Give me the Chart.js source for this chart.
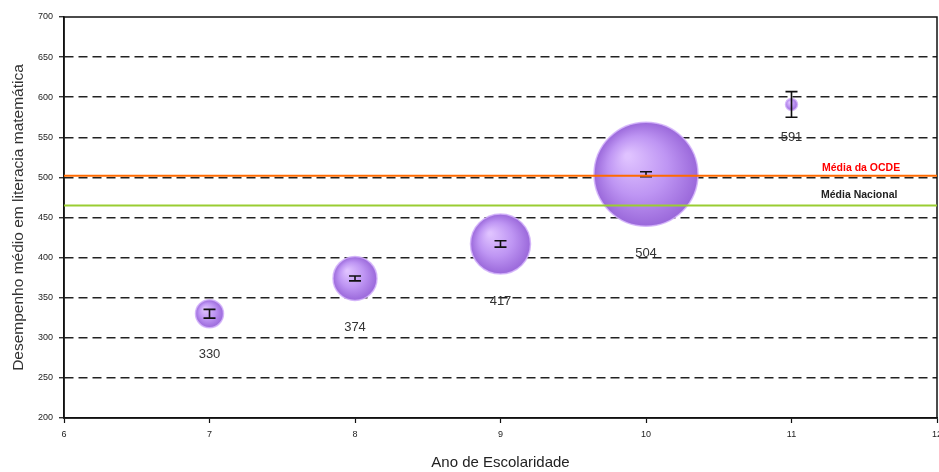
<!DOCTYPE html>
<html>
<head>
<meta charset="utf-8">
<script src="https://cdn.jsdelivr.net/npm/chart.js@4.4.1/dist/chart.umd.min.js"></script>
<style>
    html, body { margin: 0; padding: 0; background: #fff; }
    #wrap { width: 939px; height: 472px; }
</style>
</head>
<body>
<div id="wrap"><canvas id="chart"></canvas></div>
<script>
// data
const years = [7, 8, 9, 10, 11];
const scores = [330, 374, 417, 504, 591];
const bubbleSizes = [14, 22, 30, 52, 6];
const errors = [5.5, 3, 4, 3, 16];
const oecdMean = 502;
const nationalMean = 465;
const xRange = [6, 12];
const yRange = [200, 700];
const yStep = 50;
const labelOecd = 'Média da OCDE';
const labelNational = 'Média Nacional';

const FONT = "'Liberation Sans', Arial, sans-serif";

function bubbleFill(ctx) {
    const chart = ctx.chart;
    const i = ctx.dataIndex;
    if (i === undefined || !chart.chartArea) return '#b58ae8';
    const cx = chart.scales.x.getPixelForValue(years[i]);
    const cy = chart.scales.y.getPixelForValue(scores[i]);
    const r = bubbleSizes[i];
    const g = chart.ctx.createRadialGradient(cx - r * 0.35, cy - r * 0.35, r * 0.05, cx, cy, r);
    g.addColorStop(0, '#dfc2ff');
    g.addColorStop(0.55, '#be95f3');
    g.addColorStop(1, '#9a68da');
    return g;
}

const framePlugin = {
    id: 'frame',
    beforeDatasetsDraw(chart) {
        const { ctx, chartArea: a } = chart;
        ctx.save();
        ctx.strokeStyle = '#111';
        ctx.lineWidth = 1.5;
        ctx.strokeRect(a.left, a.top, a.right - a.left, a.bottom - a.top);
        ctx.restore();
    },
};

const errorBarPlugin = {
    id: 'errorBars',
    afterDatasetDraw(chart, args) {
        if (chart.data.datasets[args.index].type !== 'bubble') return;
        const { ctx } = chart;
        const xs = chart.scales.x, ys = chart.scales.y;
        ctx.save();
        ctx.strokeStyle = '#111';
        ctx.lineWidth = 1.6;
        years.forEach((yr, i) => {
            const x = xs.getPixelForValue(yr);
            const y1 = ys.getPixelForValue(scores[i] + errors[i]);
            const y2 = ys.getPixelForValue(scores[i] - errors[i]);
            ctx.beginPath();
            ctx.moveTo(x, y1); ctx.lineTo(x, y2);
            ctx.moveTo(x - 6, y1); ctx.lineTo(x + 6, y1);
            ctx.moveTo(x - 6, y2); ctx.lineTo(x + 6, y2);
            ctx.stroke();
        });
        ctx.restore();
    },
    afterDatasetsDraw(chart) {
        const { ctx, chartArea: a } = chart;
        const xs = chart.scales.x, ys = chart.scales.y;
        ctx.save();
        ctx.textAlign = 'center';
        ctx.textBaseline = 'middle';
        ctx.font = `13px ${FONT}`;
        ctx.fillStyle = '#333';
        years.forEach((yr, i) => {
            const x = xs.getPixelForValue(yr);
            const y = ys.getPixelForValue(scores[i]) + bubbleSizes[i] + 27;
            ctx.fillText(String(scores[i]), x, y);
        });
        ctx.textAlign = 'left';
        ctx.font = `bold 10.5px ${FONT}`;
        ctx.fillStyle = '#ff0000';
        ctx.fillText(labelOecd, a.right - 115, ys.getPixelForValue(oecdMean) - 8);
        ctx.fillStyle = '#222';
        ctx.fillText(labelNational, a.right - 116, ys.getPixelForValue(nationalMean) - 10);
        ctx.restore();
    },
};

new Chart(document.getElementById('chart'), {
    data: {
        datasets: [
            {
                type: 'line',
                data: xRange.map((x) => ({ x, y: oecdMean })),
                borderColor: '#ff6a00',
                borderWidth: 2,
                pointRadius: 0,
                order: 0,
            },
            {
                type: 'line',
                data: xRange.map((x) => ({ x, y: nationalMean })),
                borderColor: '#9acd32',
                borderWidth: 2,
                pointRadius: 0,
                order: 0,
            },
            {
                type: 'bubble',
                data: years.map((x, i) => ({ x, y: scores[i], r: bubbleSizes[i] })),
                backgroundColor: bubbleFill,
                borderColor: 'rgba(210,178,250,0.85)',
                borderWidth: 1.5,
                order: 1,
            },
        ],
    },
    options: {
        responsive: true,
        maintainAspectRatio: false,
        animation: false,
        layout: { autoPadding: false, padding: { left: 0, top: 17, right: 2, bottom: 0 } },
        plugins: { legend: { display: false }, tooltip: { enabled: false } },
        scales: {
            x: {
                type: 'linear',
                min: xRange[0],
                max: xRange[1],
                ticks: { stepSize: 1, color: '#222', font: { family: FONT, size: 9 }, padding: 6 },
                grid: { drawOnChartArea: false, tickLength: 5, tickColor: '#111', tickWidth: 1.2 },
                border: { color: '#111', width: 1.5 },
                title: { display: true, text: 'Ano de Escolaridade', color: '#222', font: { family: FONT, size: 15 }, padding: { top: 0, bottom: 0 } },
                afterFit(scale) { scale.height = 54; scale.paddingLeft = 0; scale.paddingRight = 0; },
            },
            y: {
                min: yRange[0],
                max: yRange[1],
                ticks: { stepSize: yStep, color: '#222', font: { family: FONT, size: 9 }, padding: 6 },
                grid: {
                    color: (c) => (c.tick && (c.tick.value === yRange[0] || c.tick.value === yRange[1]) ? 'rgba(0,0,0,0)' : '#222'),
                    lineWidth: 1.5,
                    tickLength: 5,
                    tickColor: '#111',
                    tickWidth: 1.2,
                },
                border: { color: '#111', width: 1.5, dash: [9, 5] },
                title: { display: true, text: 'Desempenho médio em literacia matemática', color: '#333', font: { family: FONT, size: 15.5 }, padding: { top: 9, bottom: 0 } },
                afterFit(scale) { scale.width = 64; scale.paddingTop = 0; scale.paddingBottom = 0; },
            },
        },
    },
    plugins: [framePlugin, errorBarPlugin],
});
</script>
</body>
</html>
